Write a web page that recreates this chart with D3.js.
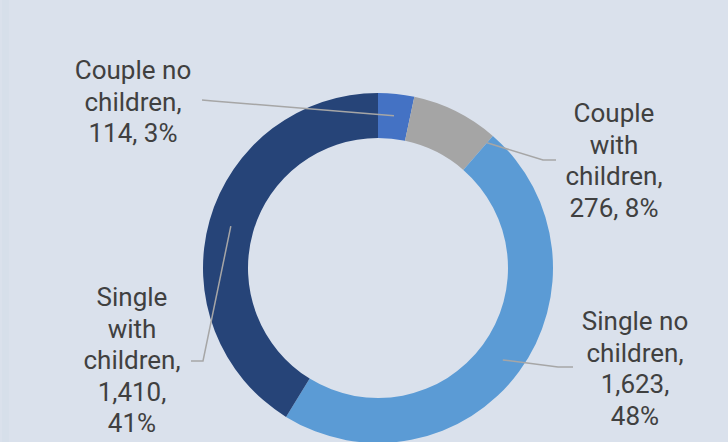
<!DOCTYPE html>
<html>
<head>
<meta charset="utf-8">
<script src="https://cdnjs.cloudflare.com/ajax/libs/d3/7.8.5/d3.min.js"></script>
<style>
  body { margin: 0; background: #dae1ec; }
  svg { display: block; }
</style>
</head>
<body>
<div id="chart"></div>
<script>
const categories = ['Couple no children', 'Couple with children', 'Single no children', 'Single with children'];
const values = [114, 276, 1623, 1410];
const valueLabels = ['114', '276', '1,623', '1,410'];
const percentLabels = ['3%', '8%', '48%', '41%'];
const colors = ['#4472c4', '#a5a5a5', '#5b9bd5', '#264478'];

// label text broken into lines the way the chart wraps them
const labelLines = [
    ['Couple no', 'children,', '114, 3%'],
    ['Couple', 'with', 'children,', '276, 8%'],
    ['Single no', 'children,', '1,623,', '48%'],
    ['Single', 'with', 'children,', '1,410,', '41%']
];

const width = 728;
const height = 442;
const cx = 378, cy = 268;
const outerRadius = 175;
const innerRadius = 130;

// label box centre x / first line y, and leader elbow
const labelLayout = [
    { x: 133, y: 70, elbow: [213, 101], end: [202, 100], anchor: 'mid', r: 153 },
    { x: 614, y: 113, elbow: [543, 160], end: [556, 160], anchor: 'end', r: 166 },
    { x: 635, y: 321, elbow: [558, 367], end: [573, 367], anchor: 'mid', r: 155 },
    { x: 132, y: 297, elbow: [203, 361], end: [191, 361], anchor: 'mid', r: 153 }
];
const lineHeight = 31.5;

const svg = d3.select('#chart')
    .append('svg')
    .attr('width', width)
    .attr('height', height);

svg.append('rect')
    .attr('width', width)
    .attr('height', height)
    .attr('fill', '#dae1ec');
svg.append('rect')
    .attr('x', 2)
    .attr('width', 7)
    .attr('height', height)
    .attr('fill', '#d6dfea');

const pie = d3.pie().sort(null).value(d => d);
const arcs = pie(values);

const arc = d3.arc()
    .innerRadius(innerRadius)
    .outerRadius(outerRadius);

const donutG = svg.append('g')
    .attr('transform', 'translate(' + cx + ',' + cy + ')');

donutG.selectAll('path')
    .data(arcs)
    .enter()
    .append('path')
    .attr('d', arc)
    .attr('fill', (d, i) => colors[i]);

// leader lines
const leaderG = svg.append('g');
arcs.forEach((d, i) => {
    const l = labelLayout[i];
    const a = l.anchor === 'end' ? d.endAngle : (d.startAngle + d.endAngle) / 2;
    const p = [cx + l.r * Math.sin(a), cy - l.r * Math.cos(a)];
    leaderG.append('polyline')
        .attr('points', [p, l.elbow, l.end].map(q => q.join(',')).join(' '))
        .attr('fill', 'none')
        .attr('stroke', '#a6a6a6')
        .attr('stroke-width', 1.5);
});

// labels
const labelG = svg.append('g')
    .attr('font-family', 'Roboto, sans-serif')
    .attr('font-size', 26)
    .attr('fill', '#404040')
    .attr('text-anchor', 'middle');

labelLines.forEach((lines, i) => {
    const l = labelLayout[i];
    const t = labelG.append('text')
        .attr('x', l.x)
        .attr('y', l.y)
        .attr('dominant-baseline', 'central');
    lines.forEach((s, j) => {
        t.append('tspan')
            .attr('x', l.x)
            .attr('y', l.y + j * lineHeight)
            .text(s);
    });
});
</script>
</body>
</html>
